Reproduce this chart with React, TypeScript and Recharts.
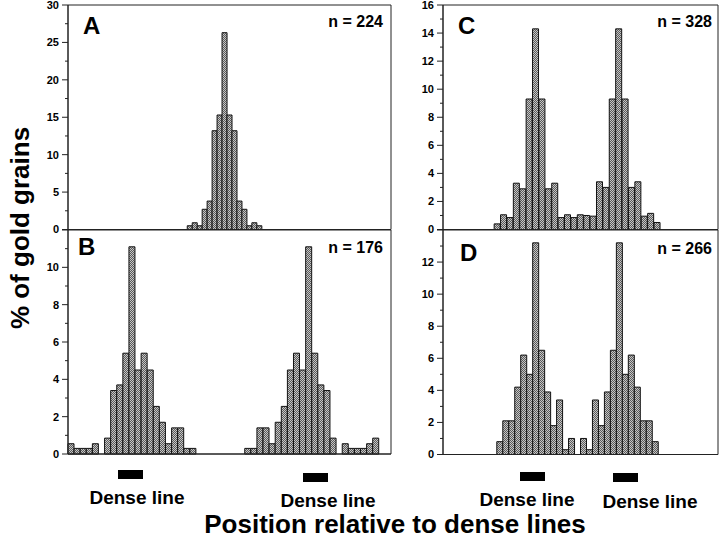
import React from 'react'
import {BarChart, Bar, XAxis, YAxis, ReferenceArea} from 'recharts'

// % of gold grains per bin, empty bins included
const binsA = [
  0, 0, 0, 0, 0, 0, 0, 0, 0, 0,
  0, 0, 0, 0, 0, 0, 0, 0, 0, 0,
  0, 0, 0, 0, 0.5, 0.9, 0.5, 2.7, 3.8, 13.2,
  15.3, 26.3, 15.3, 13.2, 3.8, 2.7, 0.5, 0.9, 0.5, 0,
  0, 0, 0, 0, 0, 0, 0, 0, 0, 0,
  0, 0, 0, 0, 0, 0, 0, 0, 0, 0,
  0, 0, 0, 0, 0,
]
const binsB = [
  0.55, 0.3, 0.3, 0.3, 0.55, 0, 0.85, 3.4, 3.7, 5.4,
  11.1, 4.5, 5.4, 4.5, 2.55, 1.7, 0.55, 1.4, 1.4, 0.3,
  0.3, 0, 0, 0, 0, 0, 0, 0, 0, 0.3,
  0.3, 1.4, 1.4, 0.55, 1.7, 2.55, 4.5, 5.4, 4.5, 11.1,
  5.4, 3.7, 3.4, 0.85, 0, 0.55, 0.3, 0.3, 0.3, 0.55,
  0.85, 0, 0,
]
const binsC = [
  0, 0, 0, 0, 0, 0, 0, 0, 0.4, 1.05,
  0.85, 3.3, 2.9, 9.3, 14.3, 9.3, 2.9, 3.3, 0.85, 1.05,
  0.85, 1.05, 1.0, 0.95, 3.4, 3.0, 9.3, 14.3, 9.3, 3.0,
  3.4, 0.95, 1.15, 0.5, 0, 0, 0, 0, 0, 0,
  0, 0, 0,
]
const binsD = [
  0, 0, 0, 0, 0, 0, 0, 0, 0, 0.8,
  2.1, 2.1, 4.2, 6.2, 5.0, 13.2, 6.5, 3.9, 1.8, 3.4,
  0.3, 1.0, 0, 1.0, 0.3, 3.4, 1.8, 3.9, 6.5, 13.2,
  5.0, 6.2, 4.2, 2.1, 2.1, 0.8, 0, 0, 0, 0,
  0, 0, 0, 0, 0, 0,
]

const ticksA = [0, 2.5, 5, 7.5, 10, 12.5, 15, 17.5, 20, 22.5, 25, 27.5, 30]
const ticksB = [0, 1, 2, 3, 4, 5, 6, 7, 8, 9, 10, 11, 12]
const ticksC = [0, 1, 2, 3, 4, 5, 6, 7, 8, 9, 10, 11, 12, 13, 14, 15, 16]
const ticksD = [0, 1, 2, 3, 4, 5, 6, 7, 8, 9, 10, 11, 12, 13, 14]

const FONT = '"Liberation Sans", Arial, Helvetica, sans-serif'
const INK = '#222'

const YTick = (props: any) => {
  const {x, y, payload, step, labelMax} = props
  const v = payload.value
  const major = Math.abs(v / step - Math.round(v / step)) < 1e-6
  return (
    <g>
      <line x1={x - (major ? 6 : 3)} x2={x} y1={y} y2={y} stroke={INK} />
      {major && v <= labelMax && (
        <text x={x - 9} y={y} dy="0.36em" textAnchor="end" fontSize={11} fontWeight={700} fontFamily={FONT} fill="#000">
          {v}
        </text>
      )}
    </g>
  )
}

type Box = {x: number, y: number, w: number, h: number}

const Panel = ({id, bins, yMax, yTicks, step, labelMax, xDivs, box}: {
  id: string, bins: number[], yMax: number, yTicks: number[], step: number, labelMax: number, xDivs: number, box: Box
}) => {
  const data = bins.map((pct, i) => ({bin: i + 0.5, pct}))
  const n = bins.length
  const xTicks = xDivs ? Array.from({length: xDivs + 1}, (_, k) => (k * n) / xDivs) : []
  return (
    <div style={{position: 'absolute', left: box.x - 45, top: box.y - 10}}>
      <BarChart width={box.w + 55} height={box.h + 18} data={data} margin={{top: 10, right: 10, bottom: 0, left: 0}}
        barCategoryGap={0} barGap={0}>
        <defs>
          <pattern id={'dot' + id} width={2} height={2} patternUnits="userSpaceOnUse">
            <rect width={2} height={2} fill="#c6c6c6" />
            <rect width={1} height={1} fill="#5a5a5a" />
            <rect x={1} y={1} width={1} height={1} fill="#5a5a5a" />
          </pattern>
        </defs>
        <XAxis type="number" dataKey="bin" domain={[0, n]} ticks={xDivs ? xTicks : undefined} interval={0} height={8}
          tick={false} tickLine={xDivs ? {stroke: INK} : false} tickSize={4} axisLine={{stroke: INK}} allowDecimals />
        <YAxis type="number" domain={[0, yMax]} ticks={yTicks} interval={0} width={45} tickSize={0} tickMargin={0}
          tickLine={false} axisLine={{stroke: INK}} tick={<YTick step={step} labelMax={labelMax} />} />
        <ReferenceArea x1={0} x2={n} y1={0} y2={yMax} fill="none" stroke={INK} />
        <Bar dataKey="pct" fill={`url(#dot${id})`} stroke="#111" strokeWidth={1} isAnimationActive={false} />
      </BarChart>
    </div>
  )
}

const txt = {fontFamily: FONT, fontWeight: 700, fill: '#000'} as const

export default function App() {
  return (
    <div style={{position: 'absolute', left: 0, top: 0, width: 720, height: 547, background: '#fff'}}>
      <Panel id="A" bins={binsA} yMax={30} yTicks={ticksA} step={5} labelMax={30} xDivs={0}
        box={{x: 68, y: 5, w: 323, h: 224.5}} />
      <Panel id="B" bins={binsB} yMax={12} yTicks={ticksB} step={2} labelMax={10} xDivs={18}
        box={{x: 68, y: 229.5, w: 323, h: 224}} />
      <Panel id="C" bins={binsC} yMax={16} yTicks={ticksC} step={2} labelMax={16} xDivs={0}
        box={{x: 443, y: 5, w: 275, h: 224.5}} />
      <Panel id="D" bins={binsD} yMax={14} yTicks={ticksD} step={2} labelMax={12} xDivs={12}
        box={{x: 443, y: 229.5, w: 275, h: 224.5}} />
      <svg width={720} height={547} style={{position: 'absolute', left: 0, top: 0, pointerEvents: 'none'}}>
        <text x={83} y={34} fontSize={24} {...txt}>A</text>
        <text x={78} y={255} fontSize={24} {...txt}>B</text>
        <text x={458} y={34} fontSize={24} {...txt}>C</text>
        <text x={460} y={261} fontSize={24} {...txt}>D</text>
        <text x={383} y={27} fontSize={16} textAnchor="end" {...txt}>n = 224</text>
        <text x={383} y={253} fontSize={16} textAnchor="end" {...txt}>n = 176</text>
        <text x={712} y={27} fontSize={16} textAnchor="end" {...txt}>n = 328</text>
        <text x={712} y={254} fontSize={16} textAnchor="end" {...txt}>n = 266</text>
        <rect x={118} y={470} width={25} height={9} fill="#000" />
        <rect x={303} y={473} width={25} height={9} fill="#000" />
        <rect x={520} y={472} width={25} height={9} fill="#000" />
        <rect x={613} y={473} width={25} height={9} fill="#000" />
        <text x={137} y={504} fontSize={19} textAnchor="middle" {...txt}>Dense line</text>
        <text x={328} y={507} fontSize={19} textAnchor="middle" {...txt}>Dense line</text>
        <text x={527} y={506} fontSize={19} textAnchor="middle" {...txt}>Dense line</text>
        <text x={650} y={508} fontSize={19} textAnchor="middle" {...txt}>Dense line</text>
        <text x={395} y={533} fontSize={26} textAnchor="middle" {...txt}>Position relative to dense lines</text>
        <text transform="translate(28.5, 228) rotate(-90)" fontSize={26} textAnchor="middle" {...txt}>% of gold grains</text>
      </svg>
    </div>
  )
}
